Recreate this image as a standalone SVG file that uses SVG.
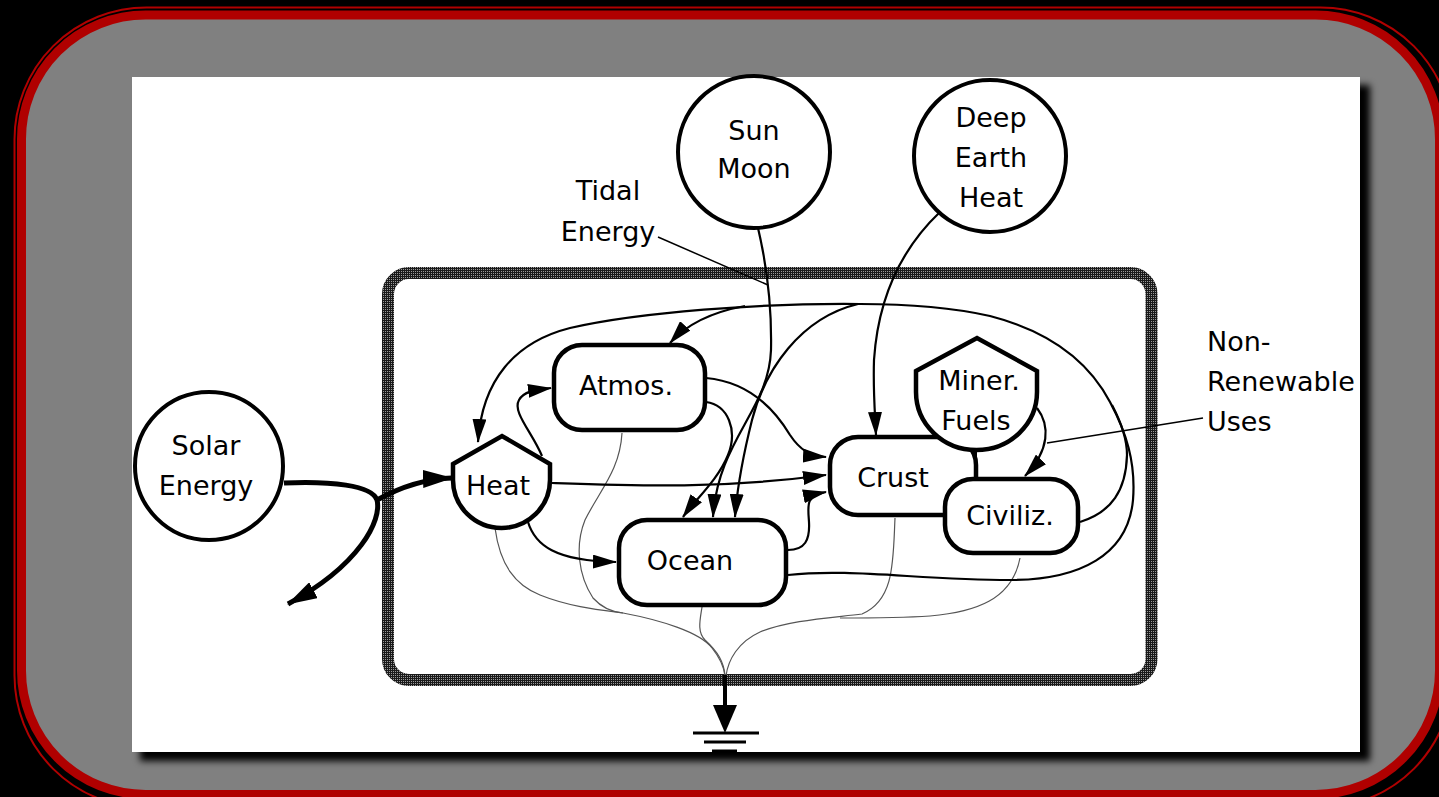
<svg xmlns="http://www.w3.org/2000/svg" width="1439" height="797" viewBox="0 0 1439 797">
<defs>
<style>
.t{font-family:"DejaVu Sans",sans-serif;font-size:27px;text-anchor:middle;fill:#000}
.tl{font-family:"DejaVu Sans",sans-serif;font-size:27px;text-anchor:start;fill:#000}
.node{fill:#fff;stroke:#000;stroke-width:4.5}
.circ{fill:#fff;stroke:#000;stroke-width:4}
.c{fill:none;stroke:#000;stroke-width:2.2}
.cb{fill:none;stroke:#000;stroke-width:5}
.g{fill:none;stroke:#555;stroke-width:1.2}
.ld{fill:none;stroke:#000;stroke-width:1.5}
</style>
<pattern id="hatch" patternUnits="userSpaceOnUse" width="2" height="2">
<rect width="2" height="2" fill="#1a1a1a"/>
<rect x="1" y="1" width="1" height="1" fill="#9a9a9a"/>
</pattern>
<filter id="shadow" x="-5%" y="-5%" width="115%" height="115%">
<feGaussianBlur stdDeviation="3.5"/>
</filter>
<marker id="arr" markerUnits="userSpaceOnUse" markerWidth="24" markerHeight="14" viewBox="0 0 24 14" refX="23" refY="7" orient="auto">
<path d="M0,0 L24,7 L0,14 Z" fill="#000"/>
</marker>
<marker id="arrBig" markerUnits="userSpaceOnUse" markerWidth="30" markerHeight="18" viewBox="0 0 30 18" refX="29" refY="9" orient="auto">
<path d="M0,0 L30,9 L0,18 Z" fill="#000"/>
</marker>
</defs>

<!-- background frame -->
<rect x="0" y="0" width="1439" height="797" fill="#000"/>
<rect x="14.5" y="7.5" width="1438" height="800" rx="132" fill="none" stroke="#b00000" stroke-width="2"/>
<rect x="21.5" y="15" width="1418" height="779.5" rx="124" fill="#808080" stroke="#b00000" stroke-width="9"/>
<rect x="140" y="85" width="1230" height="676" fill="#000" filter="url(#shadow)"/>
<rect x="132" y="77" width="1228" height="675" fill="#fff"/>

<!-- system boundary -->
<rect id="boundary" x="388" y="273" width="763.5" height="407" rx="21" fill="none" stroke="url(#hatch)" stroke-width="12"/>

<!-- connectors -->
<g id="connectors">
<!-- solar energy -->
<path class="cb" d="M284,483 C330,481 372,485 377,500 C382,520 360,565 288,604" marker-end="url(#arrBig)"/>
<path class="cb" d="M377,500 C395,490 420,479 452,478" marker-end="url(#arrBig)"/>
<!-- heat sinks -->
<path class="g" d="M495,528 C500,565 515,585 540,595 C570,607 600,610 623,613 C660,620 700,632 712,648 C720,658 724,666 725,676"/>
<path class="g" d="M622,433 C620,470 600,490 585,520 C575,545 578,575 593,598 C602,608 612,612 623,613"/>
<path class="g" d="M702,607 C700,620 697,632 705,640 C718,652 724,662 725,676"/>
<path class="g" d="M895,518 C893,560 895,600 862,614 C830,618 790,620 760,632 C738,642 728,660 726,676"/>
<path class="g" d="M1020,558 C1012,600 975,612 930,616 C900,618 870,618 840,618"/>
<!-- ground -->
<path d="M725,675 L725,708" stroke="#000" stroke-width="4" fill="none"/>
<path d="M713,705 L737,705 L725,733 Z" fill="#000"/>
<path d="M693,733 L759,733 M704,742 L746,742 M712,751 L737,751" stroke="#000" stroke-width="3" fill="none"/>
<!-- big loop to heat -->
<path class="c" d="M788,575 C850,568 920,580 1010,580 C1080,580 1128,555 1133,500 C1136,462 1126,432 1110,402 C1090,364 1052,332 990,316 C950,307 910,304 860,304 C760,303 640,312 570,328 C515,342 482,380 478,442" marker-end="url(#arr)"/>
<path class="c" d="M1080,522 C1112,512 1126,490 1127,455 C1127,438 1121,422 1112,405"/>
<path class="c" d="M745,306 C712,312 686,325 670,343" marker-end="url(#arr)"/>
<path class="c" d="M858,304 C800,318 765,370 752,420 C742,460 737,490 735,517" marker-end="url(#arr)"/>
<!-- sun moon -->
<path class="c" d="M758,228 C766,262 772,300 771,350 C769,410 718,440 713,517" marker-end="url(#arr)"/>
<!-- deep earth -->
<path class="c" d="M940,212 C900,250 878,300 874,360 C873,392 875,412 876,435" marker-end="url(#arr)"/>
<!-- atmos -->
<path class="c" d="M706,402 C728,405 738,430 728,455 C718,480 695,500 683,517" marker-end="url(#arr)"/>
<path class="c" d="M706,378 C750,382 775,410 790,435 C800,450 810,456 826,457" marker-end="url(#arr)"/>
<!-- heat -->
<path class="c" d="M542,456 C532,432 512,412 519,400 C524,391 535,390 551,388" marker-end="url(#arr)"/>
<path class="c" d="M552,483 C640,486 720,489 826,475" marker-end="url(#arr)"/>
<path class="c" d="M528,522 C535,545 555,561 616,562" marker-end="url(#arr)"/>
<!-- ocean to crust -->
<path class="c" d="M788,550 C805,550 810,540 809,522 C808,505 805,496 826,492" marker-end="url(#arr)"/>
<!-- miner to civiliz -->
<path class="c" d="M1037,408 C1050,425 1050,450 1025,476" marker-end="url(#arr)"/>
<path d="M975,448 L975,480" stroke="#000" stroke-width="4" fill="none"/>
<!-- leaders -->
<path class="ld" d="M658,237 L768,285"/>
<path class="ld" d="M1203,418 L1047,443"/>
</g>

<!-- nodes -->
<g id="solar">
<circle class="circ" cx="209" cy="466" r="74"/>
<text class="t" x="206" y="455">Solar</text>
<text class="t" x="206" y="495">Energy</text>
</g>
<g id="sunmoon">
<circle class="circ" cx="754" cy="152" r="76"/>
<text class="t" x="754" y="140">Sun</text>
<text class="t" x="754" y="178">Moon</text>
</g>
<g id="deepearth">
<circle class="circ" cx="990" cy="156" r="76"/>
<text class="t" x="991" y="127">Deep</text>
<text class="t" x="991" y="167">Earth</text>
<text class="t" x="991" y="207">Heat</text>
</g>
<g id="atmos">
<rect class="node" x="554" y="345" width="151" height="85" rx="28"/>
<text class="t" x="626" y="395">Atmos.</text>
</g>
<g id="heat">
<path class="node" stroke-width="5" d="M453,464 L502,436 L550,464 L550,480 A48.5,48 0 0 1 453,480 Z"/>
<text class="t" x="498" y="495">Heat</text>
</g>
<g id="ocean">
<rect class="node" x="619" y="520" width="167" height="85" rx="28"/>
<text class="t" x="690" y="570">Ocean</text>
</g>
<g id="crust">
<rect class="node" x="830" y="437" width="146" height="78" rx="28"/>
<text class="t" x="893" y="487">Crust</text>
</g>
<g id="miner">
<path class="node" stroke-width="5" d="M916,371 L977,338 L1037,371 L1037,392 A60.5,58 0 0 1 916,392 Z"/>
<text class="t" x="979" y="390">Miner.</text>
<text class="t" x="976" y="430">Fuels</text>
</g>
<g id="civiliz">
<rect class="node" x="945" y="479" width="133" height="74" rx="28"/>
<text class="t" x="1010" y="525">Civiliz.</text>
</g>

<!-- labels -->
<g id="tidal">
<text class="t" x="608" y="200">Tidal</text>
<text class="t" x="608" y="241">Energy</text>
</g>
<g id="nonrenewable">
<text class="tl" x="1207" y="351">Non-</text>
<text class="tl" x="1207" y="391">Renewable</text>
<text class="tl" x="1207" y="431">Uses</text>
</g>
</svg>
